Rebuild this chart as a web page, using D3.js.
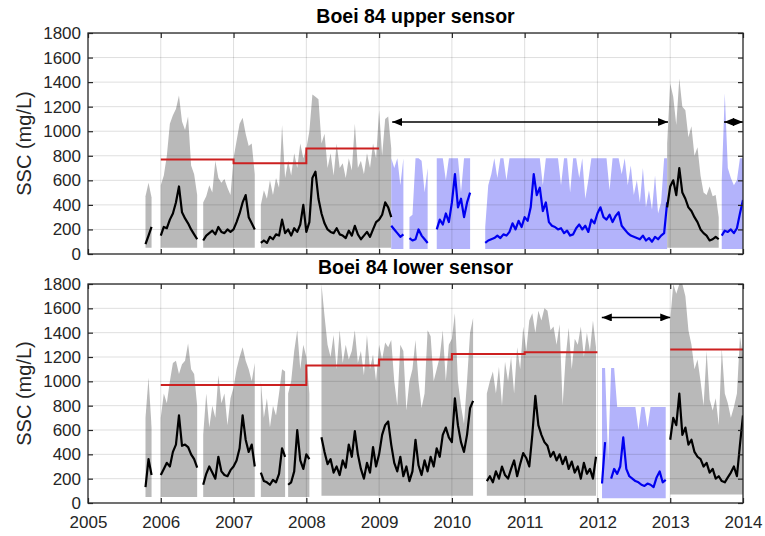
<!DOCTYPE html>
<html><head><meta charset="utf-8">
<script src="https://cdn.jsdelivr.net/npm/d3@7"></script>
<style>
body{margin:0;background:#fff}
svg{display:block}
text{font-family:Arial,"Liberation Sans",sans-serif}
</style>
</head><body>
<svg id="chart" width="765" height="536"></svg>
<script>
// ---------------- DATA ----------------
const STEP = 1 / 24;               // sampling step of series (years)
const yearTicks = [2005, 2006, 2007, 2008, 2009, 2010, 2011, 2012, 2013, 2014];
const valueTicks = [0, 200, 400, 600, 800, 1000, 1200, 1400, 1600, 1800];
const titles = ["Boei 84 upper sensor", "Boei 84 lower sensor"];
const yLabel = "SSC (mg/L)";

// ---- upper sensor ----
const u1Hi = [470, 580, 460];
const u1Mid = [80, 150, 220];
const u2Hi = [560, 640, 800, 1060, 1130, 1180, 1290, 1080, 1010, 1120, 720, 650, 480];
const u2Mid = [150, 220, 210, 280, 330, 420, 550, 340, 290, 250, 200, 160, 120];
const u3Hi = [420, 470, 560, 500, 760, 620, 580, 610, 540, 480, 780, 920, 1060, 1110, 980, 880, 900, 650];
const u3Mid = [110, 150, 170, 190, 160, 220, 180, 170, 200, 180, 200, 260, 330, 420, 480, 300, 250, 200];
const u4Hi = [400, 520, 450, 600, 480, 620, 540, 1050, 620, 760, 640, 820, 700, 900, 780, 860,
  1000, 1300, 1280, 1260, 900, 980, 700, 820, 640, 900, 700, 740, 620, 780, 680, 1060, 700, 760,
  650, 820, 700, 900, 780, 1170, 800, 1100, 1120, 860];
const u4Mid = [90, 110, 90, 140, 120, 160, 150, 280, 170, 200, 150, 210, 180, 240, 400, 180,
  260, 620, 670, 450, 330, 250, 200, 180, 170, 210, 160, 150, 130, 190, 150, 230, 160, 120,
  150, 180, 140, 200, 260, 280, 320, 420, 380, 300];
const ub1Hi = [780, 700, 780, 560, 780];
const ub1Mid = [230, 200, 170, 140, 160];
const ub2Hi = [300, 320, 780, 780, 760, 500, 700];
const ub2Mid = [130, 110, 120, 200, 150, 120, 90];
const ub3Hi = [780, 780, 780, 600, 780, 780, 780, 780, 500, 780, 780, 780];
const ub3Mid = [200, 280, 240, 330, 260, 420, 650, 380, 450, 300, 420, 500];
const ub4Hi = [220, 560, 650, 780, 620, 780, 780, 600, 780, 780, 780, 780, 780, 780, 780, 780,
  780, 780, 780, 560, 780, 780, 780, 780, 780, 560, 780, 780, 500, 780, 780, 620, 780, 450, 600,
  780, 780, 780, 780, 780, 780, 520, 780, 780, 780, 650, 780, 560, 720, 480, 600, 420, 700, 380,
  520, 360, 640, 330, 420, 780, 780];
const ub4Mid = [90, 110, 120, 130, 150, 130, 160, 150, 180, 250, 200, 270, 220, 300, 270, 380,
  650, 480, 540, 350, 420, 260, 230, 220, 200, 210, 170, 190, 150, 160, 210, 240, 200, 230, 180,
  280, 250, 330, 380, 300, 280, 320, 260, 310, 340, 230, 200, 170, 150, 140, 130, 120, 150, 110,
  130, 100, 140, 120, 150, 170, 420];
const u5Hi = [900, 1390, 1280, 1050, 1430, 1200, 1170, 950, 1040, 800, 870, 640, 500, 480, 550, 470, 480, 300];
const u5Mid = [380, 550, 600, 480, 700, 500, 450, 380, 350, 300, 260, 200, 170, 150, 110, 120, 140, 120];
const ub5Hi = [600, 1310, 700, 620, 560, 600, 780, 780];
const ub5Mid = [150, 190, 180, 200, 170, 210, 330, 440];
const upperSteps = [[2006, 2007, 770], [2007, 2008, 740], [2008, 2009, 860]];
const upperArrows = [[2009.18, 2012.97, 1075], [2013.74, 2014.0, 1075]];

// ---- lower sensor ----
const l1Hi = [700, 1030, 620];
const l1Mid = [130, 360, 230];
const l2Hi = [700, 900, 820, 1000, 1150, 1170, 1060, 1140, 1170, 1310, 1100, 1060, 800];
const l2Mid = [230, 280, 330, 300, 420, 480, 720, 470, 480, 460, 400, 360, 290];
const l3Hi = [560, 900, 620, 800, 700, 1050, 820, 900, 640, 860, 950, 1100, 1200, 1280, 1170, 1100, 1000, 1150];
const l3Mid = [150, 240, 300, 250, 200, 380, 260, 230, 220, 270, 300, 350, 450, 720, 520, 420, 480, 300];
const l4Hi = [1000, 700, 860, 620, 800, 720, 900, 1100, 1080];
const l4Mid = [250, 180, 170, 150, 190, 170, 240, 450, 380];
const l5Hi = [900, 1000, 1250, 1420, 1100, 1300, 1200, 900];
const l5Mid = [150, 170, 260, 600, 350, 280, 400, 360];
const l6Hi = [1800, 1540, 1300, 1200, 1380, 1100, 1420, 1150, 1300, 1180, 1250, 1420, 1150, 1250,
  1050, 1380, 1100, 1220, 1000, 1300, 1180, 1320, 1280, 1340, 1000, 800, 1300, 1250, 760, 1000,
  1100, 1340, 1000, 780, 900, 1420, 1370, 1000, 1100, 1200, 1420, 1000, 1300, 1350, 1560, 1000,
  800, 650, 1000, 1400, 1520];
const l6Mid = [540, 420, 320, 360, 250, 300, 230, 350, 290, 480, 380, 590, 400, 280, 200, 330,
  250, 460, 300, 400, 560, 640, 670, 480, 330, 260, 380, 220, 300, 180, 260, 520, 310, 230, 350,
  260, 380, 300, 450, 380, 560, 620, 540, 500, 860, 640, 500, 420, 560, 780, 840];
const l7Hi = [900, 1000, 1080, 900, 1120, 800, 1160, 1000, 1200, 900, 1280, 1100, 1450, 1250,
  1500, 1560, 1400, 1580, 1500, 1600, 1580, 1420, 1450, 1300, 1470, 800, 1200, 1440, 1100, 1350,
  1300, 1450, 1200, 1400, 1250, 1500, 1280];
const l7Mid = [180, 220, 170, 260, 200, 300, 230, 200, 280, 350, 220, 320, 410, 370, 300, 560,
  880, 640, 560, 500, 470, 380, 420, 350, 400, 320, 380, 280, 340, 250, 300, 200, 330, 240, 280,
  200, 380];
const lbHi = [1110, 1110, 350, 1110, 1110, 790, 790, 790, 790, 790, 790, 790, 600, 790, 790, 620,
  790, 790, 790, 790, 790, 790];
const lbMid = [160, 500, null, 200, 280, 240, 300, 540, 280, 220, 200, 180, 170, 150, 140, 160,
  150, 130, 210, 260, 170, 190];
const l8Hi = [1500, 1800, 1720, 1800, 1800, 1700, 1420, 1300, 1100, 1180, 1000, 800, 1250, 850,
  760, 860, 640, 1270, 900, 820, 700, 790, 900, 1370, 1200];
const l8Mid = [520, 700, 640, 900, 560, 620, 480, 520, 420, 380, 360, 300, 330, 250, 280, 200,
  220, 180, 170, 210, 250, 300, 220, 480, 720];
const lowerSteps = [[2006, 2008, 970], [2008, 2009, 1130], [2009, 2010, 1180], [2010, 2011, 1225],
  [2011, 2012, 1240], [2013, 2014, 1262]];
const lowerArrows = [[2012.06, 2013.0, 1525]];

// segment tables built from the arrays above
const upperSegments = [
  {kind: "gray", start: 2005.79, lo: 50, hi: u1Hi, mid: u1Mid},
  {kind: "gray", start: 2006.0, lo: 50, hi: u2Hi, mid: u2Mid},
  {kind: "gray", start: 2006.583, lo: 50, hi: u3Hi, mid: u3Mid},
  {kind: "gray", start: 2007.375, lo: 50, hi: u4Hi, mid: u4Mid},
  {kind: "blue", start: 2009.167, lo: 40, hi: ub1Hi, mid: ub1Mid},
  {kind: "blue", start: 2009.417, lo: 40, hi: ub2Hi, mid: ub2Mid},
  {kind: "blue", start: 2009.792, lo: 40, hi: ub3Hi, mid: ub3Mid},
  {kind: "blue", start: 2010.458, lo: 40, hi: ub4Hi, mid: ub4Mid},
  {kind: "gray", start: 2012.958, lo: 50, hi: u5Hi, mid: u5Mid},
  {kind: "blue", start: 2013.708, lo: 40, hi: ub5Hi, mid: ub5Mid}
];
const lowerSegments = [
  {kind: "gray", start: 2005.79, lo: 50, hi: l1Hi, mid: l1Mid},
  {kind: "gray", start: 2006.0, lo: 50, hi: l2Hi, mid: l2Mid},
  {kind: "gray", start: 2006.583, lo: 50, hi: l3Hi, mid: l3Mid},
  {kind: "gray", start: 2007.375, lo: 50, hi: l4Hi, mid: l4Mid},
  {kind: "gray", start: 2007.75, lo: 50, hi: l5Hi, mid: l5Mid},
  {kind: "gray", start: 2008.208, lo: 60, hi: l6Hi, mid: l6Mid},
  {kind: "gray", start: 2010.48, lo: 60, hi: l7Hi, mid: l7Mid},
  {kind: "blue", start: 2012.063, lo: 40, hi: lbHi, mid: lbMid},
  {kind: "gray", start: 2013.0, lo: 70, hi: l8Hi, mid: l8Mid}
];

// ---------------- DRAWING ----------------
const M = {left: 88, right: 743};
const panels = [
  {top: 33, bottom: 254, title: titles[0], titleY: 23, segments: upperSegments, steps: upperSteps, arrows: upperArrows, xLabels: false},
  {top: 284, bottom: 503, title: titles[1], titleY: 274, segments: lowerSegments, steps: lowerSteps, arrows: lowerArrows, xLabels: true}
];
const COL = {grayBand: "#b9b9b9", blueBand: "#b3b3fb", grayLine: "#000000", blueLine: "#0000f0", red: "#cc2020"};

const svg = d3.select("#chart");
const x = d3.scaleLinear().domain([2005, 2014]).range([M.left, M.right]);

const defs = svg.append("defs");
defs.append("marker").attr("id", "ah").attr("viewBox", "0 0 10 8")
  .attr("markerUnits", "userSpaceOnUse").attr("markerWidth", 10).attr("markerHeight", 8)
  .attr("refX", 10).attr("refY", 4).attr("orient", "auto-start-reverse")
  .append("path").attr("d", "M0,0L10,4L0,8Z").attr("fill", "#000");

panels.forEach((p, idx) => {
  const y = d3.scaleLinear().domain([0, 1800]).range([p.bottom, p.top]);
  const g = svg.append("g");
  const clipId = "clip" + idx;
  defs.append("clipPath").attr("id", clipId).append("rect")
    .attr("x", M.left).attr("y", p.top).attr("width", M.right - M.left).attr("height", p.bottom - p.top);

  const plot = g.append("g").attr("clip-path", `url(#${clipId})`);

  const series = p.segments.map(s => ({
    kind: s.kind,
    pts: s.hi.map((h, i) => ({t: s.start + i * STEP, hi: h, lo: s.lo, mid: s.mid[i]}))
  }));

  const area = d3.area().x(d => x(d.t)).y0(d => y(d.lo)).y1(d => y(d.hi));
  plot.selectAll("path.band").data(series).join("path").attr("class", "band")
    .attr("d", d => area(d.pts))
    .attr("fill", d => d.kind === "blue" ? COL.blueBand : COL.grayBand);

  // grid
  plot.append("g").selectAll("line").data(valueTicks.slice(1)).join("line")
    .attr("x1", M.left).attr("x2", M.right).attr("y1", d => y(d)).attr("y2", d => y(d))
    .attr("stroke", "#000").attr("stroke-opacity", 0.13).attr("stroke-width", 1);
  plot.append("g").selectAll("line").data(yearTicks.slice(1, -1)).join("line")
    .attr("x1", d => x(d)).attr("x2", d => x(d)).attr("y1", p.top).attr("y2", p.bottom)
    .attr("stroke", "#000").attr("stroke-opacity", 0.13).attr("stroke-width", 1);

  const line = d3.line().defined(d => d.mid != null).x(d => x(d.t)).y(d => y(d.mid));
  plot.selectAll("path.mid").data(series).join("path").attr("class", "mid")
    .attr("d", d => line(d.pts)).attr("fill", "none")
    .attr("stroke", d => d.kind === "blue" ? COL.blueLine : COL.grayLine)
    .attr("stroke-width", 2.2).attr("stroke-linejoin", "round");

  // red step lines (join contiguous steps)
  const groups = [];
  p.steps.forEach(s => {
    const last = groups[groups.length - 1];
    if (last && last[last.length - 1][1] === s[0]) last.push(s); else groups.push([s]);
  });
  groups.forEach(gr => {
    const pts = gr.map(s => [s[0], s[2]]);
    pts.push([gr[gr.length - 1][1], gr[gr.length - 1][2]]);
    plot.append("path")
      .attr("d", d3.line().x(d => x(d[0])).y(d => y(d[1])).curve(d3.curveStepAfter)(pts))
      .attr("fill", "none").attr("stroke", COL.red).attr("stroke-width", 2);
  });

  // arrows
  p.arrows.forEach(a => {
    g.append("line").attr("x1", x(a[0])).attr("x2", x(a[1])).attr("y1", y(a[2])).attr("y2", y(a[2]))
      .attr("stroke", "#000").attr("stroke-width", 1.6)
      .attr("marker-start", "url(#ah)").attr("marker-end", "url(#ah)");
  });

  // axes (ticks inside, all four sides)
  const axL = d3.axisLeft(y).tickValues(valueTicks).tickSizeInner(-5).tickSizeOuter(0).tickPadding(7)
    .tickFormat(d3.format("d"));
  const axR = d3.axisRight(y).tickValues(valueTicks).tickSizeInner(-5).tickSizeOuter(0).tickFormat("");
  const axT = d3.axisTop(x).tickValues(yearTicks).tickSizeInner(-5).tickSizeOuter(0).tickFormat("");
  const axB = d3.axisBottom(x).tickValues(yearTicks).tickSizeInner(-5).tickSizeOuter(0).tickPadding(13)
    .tickFormat(p.xLabels ? d3.format("d") : "");
  const styleAxis = sel => {
    sel.select(".domain").remove();
    sel.selectAll("line").attr("stroke", "#262626").attr("stroke-width", 1.2);
    sel.selectAll("text").attr("fill", "#262626").attr("font-size", 17)
      .attr("font-family", "Arial, 'Liberation Sans', sans-serif");
  };
  g.append("g").attr("transform", `translate(${M.left},0)`).call(axL).call(styleAxis);
  g.append("g").attr("transform", `translate(${M.right},0)`).call(axR).call(styleAxis);
  g.append("g").attr("transform", `translate(0,${p.top})`).call(axT).call(styleAxis);
  g.append("g").attr("transform", `translate(0,${p.bottom})`).call(axB).call(styleAxis);

  g.append("rect").attr("x", M.left).attr("y", p.top).attr("width", M.right - M.left)
    .attr("height", p.bottom - p.top).attr("fill", "none").attr("stroke", "#262626").attr("stroke-width", 1.3);

  g.append("text").attr("x", (M.left + M.right) / 2).attr("y", p.titleY)
    .attr("text-anchor", "middle").attr("font-weight", "bold").attr("font-size", 19.5)
    .attr("fill", "#000").text(p.title);

  g.append("text").attr("transform", `translate(31,${(p.top + p.bottom) / 2}) rotate(-90)`)
    .attr("text-anchor", "middle").attr("font-size", 20).attr("fill", "#262626").text(yLabel);
});
</script>
</body></html>
